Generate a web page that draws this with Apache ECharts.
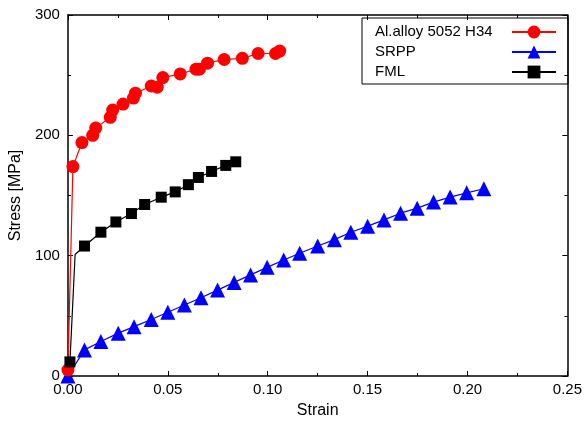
<!DOCTYPE html>
<html><head><meta charset="utf-8">
<script src="https://cdn.jsdelivr.net/npm/echarts@6/dist/echarts.min.js"></script>
<style>html,body{margin:0;padding:0;background:#fff}#c{width:585px;height:424px}</style>
</head><body><div id="c"></div>
<script>
const seriesNames = ['Al.alloy 5052 H34', 'SRPP', 'FML'];
const alStrain = [0, 0.0025, 0.007, 0.0124, 0.0139, 0.0212, 0.0224, 0.0276, 0.0328, 0.0338, 0.0417, 0.0447, 0.0475, 0.0562, 0.0641, 0.0658, 0.0699, 0.0782, 0.0873, 0.0952, 0.1039, 0.106];
const alStress = [5, 174, 194, 200, 206, 215, 221, 226, 231, 235, 241, 240, 248, 251, 255, 255, 260, 263, 264, 268, 268, 270];
const srppStrain = [0, 0.0083, 0.0165, 0.0252, 0.0331, 0.0417, 0.05, 0.0583, 0.0666, 0.0749, 0.0832, 0.0914, 0.0997, 0.108, 0.116, 0.125, 0.1334, 0.1416, 0.15, 0.1582, 0.1665, 0.1748, 0.183, 0.1913, 0.1996, 0.2082];
const srppStress = [0, 21.7, 28.6, 35.6, 41, 47, 53, 59, 65, 71.4, 77.8, 84, 90.3, 96.4, 102, 108, 113.3, 119.5, 124.5, 129.7, 135.3, 139.5, 144.5, 148.7, 152.2, 155.6];
const fmlStrain = [0.001, 0.0036, 0.0083, 0.0165, 0.024, 0.0318, 0.0384, 0.0467, 0.0537, 0.0603, 0.0653, 0.0719, 0.079, 0.084];
const fmlStress = [11.7, 101, 108, 119.5, 128, 135, 142.5, 148.6, 153, 159, 165, 170, 175, 178];
const xTicks = [0, 0.05, 0.10, 0.15, 0.20, 0.25];
const yTicks = [0, 100, 200, 300];

const zip = (a, b) => a.map((v, i) => [v, b[i]]);
const font = "'Liberation Sans', Arial, sans-serif";
const axisCommon = () => ({
  axisLine: {show: true, onZero: false, lineStyle: {color: '#000', width: 1.5}},
  axisTick: {show: true, inside: true, length: 5, lineStyle: {color: '#000', width: 1}},
  minorTick: {show: true, splitNumber: 2, length: 3, lineStyle: {color: '#000', width: 1}},
  splitLine: {show: false}
});
const chart = echarts.init(document.getElementById('c'));
chart.setOption({
  animation: false,
  backgroundColor: '#fff',
  grid: {left: 67, right: 14, top: 15, bottom: 47},
  legend: {
    right: 17, top: 18, orient: 'vertical', align: 'right',
    data: seriesNames,
    borderColor: '#000', borderWidth: 1, borderRadius: 0,
    padding: [6, 11, 4, 13], itemGap: 4, itemWidth: 44, itemHeight: 16,
    formatter: name => '{a|' + name + '}',
    textStyle: {fontFamily: font, fontSize: 15, color: '#000',
      rich: {a: {width: 132, height: 16, lineHeight: 16, align: 'left', fontFamily: font, fontSize: 15, color: '#000'}}}
  },
  xAxis: [
    Object.assign({type: 'value', min: 0, max: 0.25, interval: 0.05, position: 'bottom',
      name: 'Strain', nameLocation: 'middle', nameGap: 27,
      nameTextStyle: {fontFamily: font, fontSize: 16, color: '#000'},
      axisLabel: {fontFamily: font, fontSize: 15, color: '#000', margin: 6,
        formatter: v => xTicks.find(t => Math.abs(t - v) < 1e-9) !== undefined ? v.toFixed(2) : ''}}, axisCommon()),
    Object.assign({type: 'value', min: 0, max: 0.25, interval: 0.05, position: 'top',
      axisLabel: {show: false}}, axisCommon())
  ],
  yAxis: [
    Object.assign({type: 'value', min: 0, max: 300, interval: 100, position: 'left',
      name: 'Stress [MPa]', nameLocation: 'middle', nameGap: 42, nameRotate: 90,
      nameTextStyle: {fontFamily: font, fontSize: 16, color: '#000'},
      axisLabel: {fontFamily: font, fontSize: 15, color: '#000', margin: 8,
        formatter: v => yTicks.includes(v) ? String(v) : ''}}, axisCommon()),
    Object.assign({type: 'value', min: 0, max: 300, interval: 100, position: 'right',
      axisLabel: {show: false}}, axisCommon())
  ],
  series: [
    {name: seriesNames[0], type: 'line', data: zip(alStrain, alStress),
      symbol: 'circle', symbolSize: 13, color: '#ff0000',
      lineStyle: {width: 1.2, color: '#ff0000'}, itemStyle: {color: '#ff0000'}, z: 3},
    {name: seriesNames[1], type: 'line', data: zip(srppStrain, srppStress),
      symbol: 'triangle', symbolSize: 15, color: '#0000ff',
      lineStyle: {width: 1.2, color: '#0000ff'}, itemStyle: {color: '#0000ff'}, z: 2},
    {name: seriesNames[2], type: 'line', data: zip(fmlStrain, fmlStress),
      symbol: 'rect', symbolSize: (v, p) => p.dataIndex === 1 ? 0 : 11, color: '#000',
      lineStyle: {width: 1.2, color: '#000'}, itemStyle: {color: '#000'}, z: 4}
  ]
});
</script></body></html>
